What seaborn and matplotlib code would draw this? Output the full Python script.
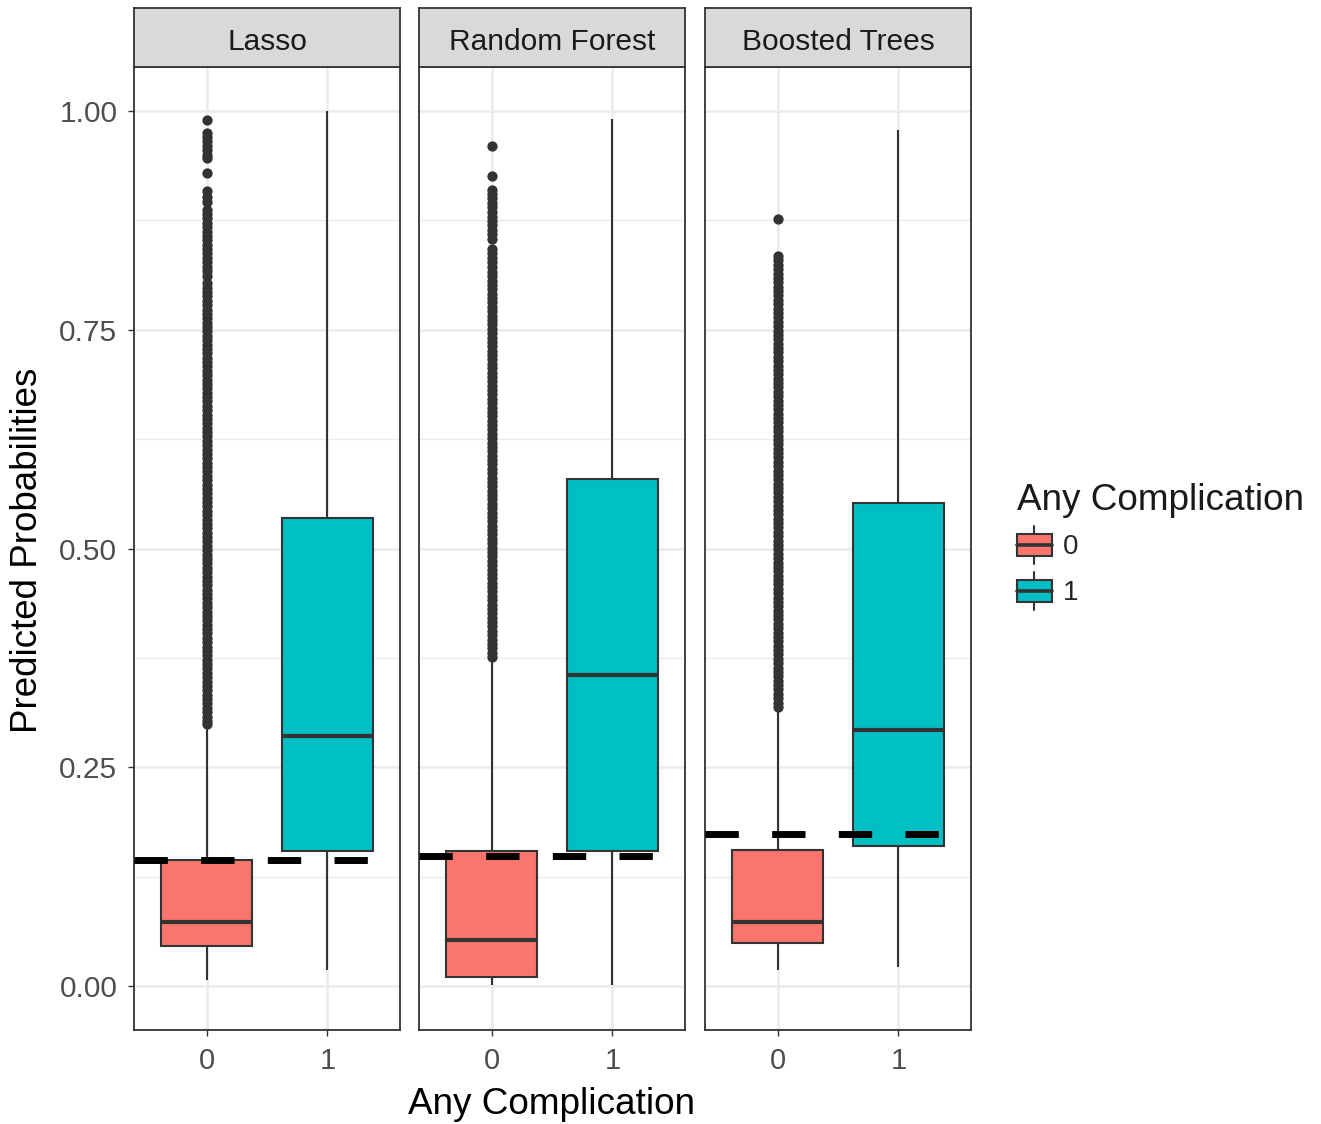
import numpy as np
import pandas as pd
import matplotlib
matplotlib.use("Agg")
import matplotlib.pyplot as plt
from matplotlib.patches import Rectangle
from matplotlib.lines import Line2D
from matplotlib.legend_handler import HandlerBase
import seaborn as sns

# ---------------- data ----------------
models = ["Lasso", "Random Forest", "Boosted Trees"]
groups = ["0", "1"]
# five-number summaries: whisker low, Q1, median, Q3, whisker high
lasso_0 = [0.007, 0.046, 0.073, 0.144, 0.295]
lasso_1 = [0.018, 0.155, 0.286, 0.535, 1.000]
rf_0 = [0.001, 0.011, 0.053, 0.155, 0.371]
rf_1 = [0.001, 0.154, 0.355, 0.579, 0.991]
bt_0 = [0.018, 0.049, 0.073, 0.156, 0.315]
bt_1 = [0.022, 0.160, 0.293, 0.552, 0.978]
thresholds = [0.144, 0.149, 0.174]

lasso_fliers = [0.989, 0.975, 0.970, 0.965, 0.960, 0.955, 0.950, 0.946, 0.929, 0.908,
                0.902, 0.896, 0.887, 0.882, 0.877, 0.872, 0.867, 0.862, 0.857, 0.852,
                0.847, 0.842, 0.837, 0.832, 0.827, 0.822, 0.817, 0.811,
                0.803, 0.798, 0.793, 0.788, 0.783, 0.778, 0.773, 0.768, 0.763, 0.758,
                0.753, 0.748, 0.743, 0.738, 0.733, 0.728, 0.723, 0.718, 0.713, 0.708,
                0.703, 0.698, 0.693, 0.688, 0.683, 0.678, 0.673, 0.668, 0.663, 0.658,
                0.653, 0.648, 0.643, 0.638, 0.633, 0.628, 0.623, 0.618, 0.613, 0.608,
                0.603, 0.598, 0.593, 0.588, 0.583, 0.578, 0.573, 0.568, 0.563, 0.558,
                0.553, 0.548, 0.543, 0.538, 0.533, 0.528, 0.523, 0.518, 0.513, 0.508,
                0.503, 0.498, 0.493, 0.488, 0.483, 0.478, 0.473, 0.468, 0.463, 0.458,
                0.453, 0.448, 0.443, 0.438, 0.433, 0.428, 0.423, 0.418, 0.413, 0.408,
                0.403, 0.398, 0.393, 0.388, 0.383, 0.378, 0.373, 0.368, 0.363, 0.358,
                0.353, 0.348, 0.343, 0.338, 0.333, 0.328, 0.323, 0.318, 0.313, 0.308,
                0.303, 0.299]
rf_fliers = [0.960, 0.926, 0.910, 0.905, 0.900, 0.895, 0.890, 0.884, 0.879, 0.874,
             0.869, 0.864, 0.859, 0.854, 0.842, 0.837, 0.832, 0.827,
             0.821, 0.816, 0.811, 0.806, 0.801, 0.796, 0.791, 0.786, 0.781, 0.776,
             0.771, 0.766, 0.761, 0.756, 0.751, 0.746, 0.741, 0.736, 0.731, 0.726,
             0.721, 0.716, 0.711, 0.706, 0.701, 0.696, 0.691, 0.686, 0.681, 0.676,
             0.671, 0.666, 0.661, 0.656, 0.651, 0.646, 0.641, 0.636, 0.631, 0.626,
             0.621, 0.616, 0.611, 0.606, 0.601, 0.596, 0.591, 0.586, 0.581, 0.576,
             0.571, 0.566, 0.561, 0.556, 0.551, 0.546, 0.541, 0.536, 0.531, 0.526,
             0.521, 0.516, 0.511, 0.506, 0.501, 0.496, 0.491, 0.486, 0.481, 0.476,
             0.471, 0.466, 0.461, 0.456, 0.451, 0.446, 0.441, 0.436, 0.431, 0.426,
             0.421, 0.416, 0.411, 0.406, 0.401, 0.396, 0.391, 0.386, 0.381, 0.376]
bt_fliers = [0.876, 0.834, 0.829, 0.824, 0.819, 0.814, 0.809, 0.804, 0.799, 0.794,
             0.789, 0.784, 0.779, 0.774, 0.769, 0.764, 0.759, 0.754, 0.749, 0.744,
             0.739, 0.734, 0.729, 0.724, 0.719, 0.714, 0.709, 0.704, 0.699, 0.694,
             0.689, 0.684, 0.679, 0.674, 0.669, 0.664, 0.659, 0.654, 0.649, 0.644,
             0.639, 0.634, 0.629, 0.624, 0.619, 0.614, 0.609, 0.604, 0.599, 0.594,
             0.589, 0.584, 0.579, 0.574, 0.569, 0.564, 0.559, 0.554, 0.549, 0.544,
             0.539, 0.534, 0.529, 0.524, 0.519, 0.514, 0.509, 0.504, 0.499, 0.494,
             0.489, 0.484, 0.479, 0.474, 0.469, 0.464, 0.459, 0.454, 0.449, 0.444,
             0.439, 0.434, 0.429, 0.424, 0.419, 0.414, 0.409, 0.404, 0.399, 0.394,
             0.389, 0.384, 0.379, 0.374, 0.369, 0.364, 0.359, 0.354, 0.349, 0.344,
             0.339, 0.334, 0.329, 0.324, 0.319]

y_ticks = [0.00, 0.25, 0.50, 0.75, 1.00]
y_ticklabels = ["0.00", "0.25", "0.50", "0.75", "1.00"]

summaries = {"Lasso": (lasso_0, lasso_1),
             "Random Forest": (rf_0, rf_1),
             "Boosted Trees": (bt_0, bt_1)}
fliers = {"Lasso": lasso_fliers, "Random Forest": rf_fliers, "Boosted Trees": bt_fliers}

palette = {"0": "#F8766D", "1": "#00BFC4"}

# ---------------- style ----------------
sns.set_theme(style="white")
plt.rcParams["font.family"] = ["Liberation Sans", "DejaVu Sans"]

W, H = 1321, 1124
fig = plt.figure(figsize=(W / 100, H / 100), dpi=100)

panel_left = [134, 419, 705]
panel_w = 266
panel_top, panel_bot = 67, 1030
strip_top = 8

def fx(px):
    return px / W

def fy(py):
    return 1 - py / H

grey20 = "#333333"
grid_col = "#EBEBEB"

for i, m in enumerate(models):
    ax = fig.add_axes([fx(panel_left[i]), fy(panel_bot), panel_w / W, (panel_bot - panel_top) / H])
    s0, s1 = summaries[m]
    box_df = pd.DataFrame({
        "complication": ["0"] * len(s0) + ["1"] * len(s1),
        "prob": s0 + s1,
    })
    fl_df = pd.DataFrame({"complication": ["0"] * len(fliers[m]), "prob": fliers[m]})

    sns.boxplot(data=box_df, x="complication", y="prob", hue="complication",
                order=groups, hue_order=groups, palette=palette, saturation=1,
                whis=np.inf, width=0.75, linecolor=grey20, linewidth=1.5,
                showcaps=False, legend=False, ax=ax,
                medianprops={"linewidth": 3.0, "color": grey20},
                whiskerprops={"linewidth": 1.5, "color": grey20},
                zorder=3)
    sns.stripplot(data=fl_df, x="complication", y="prob", order=groups,
                  jitter=False, color=grey20, size=7.4, linewidth=0, ax=ax, zorder=4)
    ax.axhline(thresholds[i], color="black", linewidth=5, dashes=(4.8, 4.8), zorder=6)

    ax.set_xlim(-0.6, 1.6)
    ax.set_ylim(-0.05, 1.05)
    ax.set_xlabel("")
    ax.set_ylabel("")
    ax.set_yticks(y_ticks)
    ax.set_yticks([0.125, 0.375, 0.625, 0.875], minor=True)
    ax.set_xticks([0, 1])
    ax.set_xticklabels(groups)
    ax.grid(True, which="major", color=grid_col, linewidth=1.8, zorder=0)
    ax.grid(True, which="minor", axis="y", color=grid_col, linewidth=1.0, zorder=0)
    ax.set_axisbelow(True)
    for sp in ax.spines.values():
        sp.set_color(grey20)
        sp.set_linewidth(1.3)
        sp.set_visible(True)
    ax.tick_params(axis="x", which="major", length=4, width=1, color=grey20,
                   labelsize=21, labelcolor="#4D4D4D", pad=8, bottom=True)
    ax.tick_params(axis="y", which="minor", length=0)
    if i == 0:
        ax.set_yticklabels(y_ticklabels)
        ax.tick_params(axis="y", which="major", length=4, width=1, color=grey20,
                       labelsize=21.5, labelcolor="#4D4D4D", pad=8, left=True)
    else:
        ax.tick_params(axis="y", which="major", left=False, labelleft=False)

    sax = fig.add_axes([fx(panel_left[i]), fy(panel_top), panel_w / W, (panel_top - strip_top) / H])
    sax.set_facecolor("#D9D9D9")
    sax.set_xticks([])
    sax.set_yticks([])
    for sp in sax.spines.values():
        sp.set_color(grey20)
        sp.set_linewidth(1.3)
        sp.set_visible(True)
    sax.text(0.5, 0.47, m, ha="center", va="center_baseline", fontsize=21.5, color="#1A1A1A",
             transform=sax.transAxes)

fig.text(fx(28), fy(550), "Predicted Probabilities", rotation=90, ha="center", va="center",
         fontsize=26.5, color="black")
fig.text(fx(551), fy(1105), "Any Complication", ha="center", va="center",
         fontsize=26.6, color="black")


class BoxHandler(HandlerBase):
    def create_artists(self, legend, orig_handle, xdescent, ydescent, width, height,
                       fontsize, trans):
        x0, y0 = -xdescent, -ydescent
        bh = 0.58 * height
        by = y0 + (height - bh) / 2
        xm = x0 + width / 2
        arts = [
            Line2D([xm, xm], [y0, by], color=grey20, linewidth=1.5, transform=trans),
            Line2D([xm, xm], [by + bh, y0 + height], color=grey20, linewidth=1.5, transform=trans),
            Rectangle((x0, by), width, bh, facecolor=orig_handle.get_facecolor(),
                      edgecolor=grey20, linewidth=1.5, transform=trans),
            Line2D([x0, x0 + width], [by + bh / 2, by + bh / 2], color=grey20,
                   linewidth=2.6, transform=trans),
        ]
        return arts


handles = [Rectangle((0, 0), 1, 1, facecolor=palette[g]) for g in groups]
leg = fig.legend(handles, groups, title="Any Complication", loc="upper left",
                 bbox_to_anchor=(fx(1017), fy(483)), frameon=False, fontsize=20,
                 title_fontsize=26.6, handlelength=1.25, handleheight=1.73,
                 handletextpad=0.4, labelspacing=0.29, borderpad=0, borderaxespad=0,
                 alignment="left", handler_map={Rectangle: BoxHandler()})
leg.get_title().set_color("#1A1A1A")

fig.savefig("out.png", dpi=100)
